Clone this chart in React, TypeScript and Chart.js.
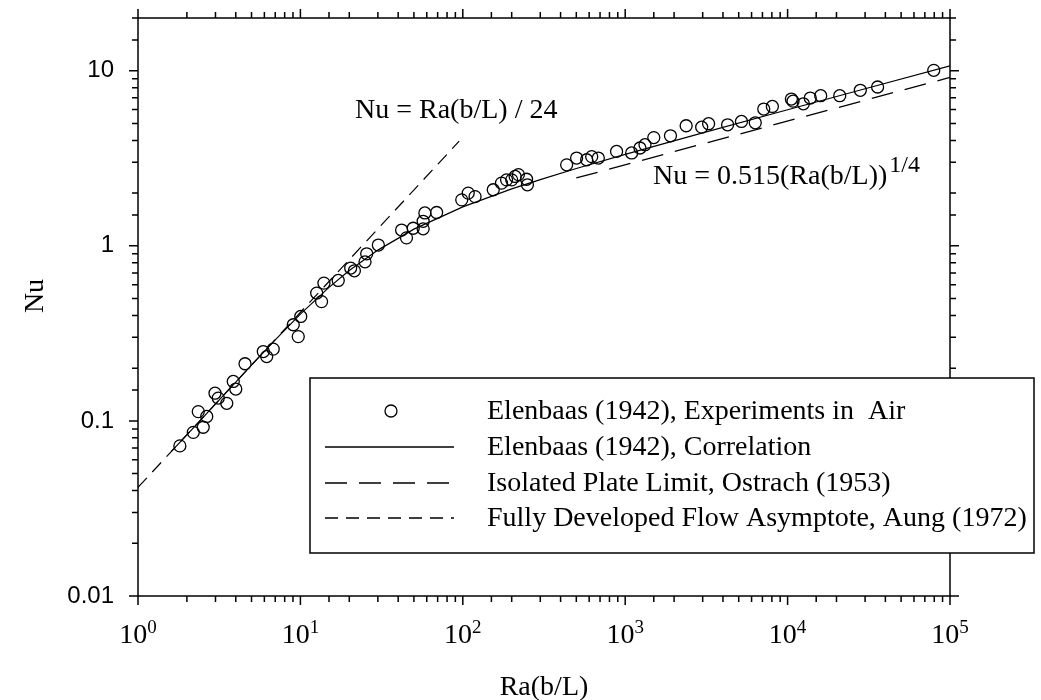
import React, { useEffect, useRef } from "react";
import { Chart, registerables } from "chart.js";

Chart.register(...registerables);

// Elenbaas (1942) experiments in air: Ra(b/L) and Nu
const expRa = [
  1.81, 2.19, 2.35, 2.52, 2.65, 2.98, 3.12, 3.52, 3.86, 4.0, 4.56, 5.91, 6.2, 6.8,
  9.04, 9.7, 10.05, 12.6, 13.5, 13.96, 17.1, 20.4, 21.5, 25, 25.6, 30.2, 42, 45,
  49.5, 57, 57, 58.4, 69, 98.5, 108, 119, 154, 173, 186, 200, 210, 220, 247, 250,
  436, 502, 579, 622, 683, 885, 1096, 1233, 1324, 1500, 1900, 2373, 2958, 3263,
  4272, 5198, 6322, 7132, 8057, 10550, 10800, 12500, 13790, 15990, 20940, 28040,
  35820, 79430,
];
const expNu = [
  0.072, 0.086, 0.113, 0.092, 0.106, 0.144, 0.135, 0.126, 0.168, 0.152, 0.212, 0.249,
  0.233, 0.257, 0.354, 0.303, 0.395, 0.537, 0.48, 0.612, 0.634, 0.746, 0.72, 0.81,
  0.9, 1.01, 1.23, 1.11, 1.26, 1.38, 1.25, 1.54, 1.55, 1.83, 2.0, 1.91, 2.09, 2.28,
  2.38, 2.38, 2.49, 2.55, 2.4, 2.23, 2.9, 3.17, 3.1, 3.23, 3.17, 3.46, 3.39, 3.62,
  3.78, 4.15, 4.25, 4.85, 4.76, 4.98, 4.91, 5.13, 5.04, 6.04, 6.25, 6.89, 6.7, 6.47,
  6.98, 7.2, 7.2, 7.73, 8.07, 10.05,
];

// Elenbaas (1942) correlation curve
const corrRa = [1.6, 2, 5, 7, 10, 15, 20, 30, 50, 100, 200, 300, 500, 1000, 3000, 10000, 30000, 100000];
const corrNu = [0.0667, 0.0833, 0.208, 0.29, 0.407, 0.579, 0.722, 0.945, 1.245, 1.669, 2.113, 2.389, 2.763, 3.328, 4.418, 5.988, 7.89, 10.67];

// Isolated plate limit, Ostrach (1953): Nu = 0.515 (Ra(b/L))^1/4
const isoRa = [500, 100000];
const isoNu = [2.44, 9.16];

// Fully developed flow asymptote, Aung (1972): Nu = Ra(b/L)/24
const fullyRa = [1, 95];
const fullyNu = [0.0417, 3.96];

const yTickValues = [0.01, 0.1, 1, 10];
const yTickLabels = ["0.01", "0.1", "1", "10"];
const xTickExponents = [0, 1, 2, 3, 4, 5];

const legendLabels = [
  "Elenbaas (1942), Experiments in  Air",
  "Elenbaas (1942), Correlation",
  "Isolated Plate Limit, Ostrach (1953)",
  "Fully Developed Flow Asymptote, Aung (1972)",
];

const SERIF = '"Liberation Serif", "Times New Roman", serif';
const SANS = '"Liberation Sans", Arial, sans-serif';

const pts = (xs: number[], ys: number[]) => xs.map((x, i) => ({ x, y: ys[i] }));
const isDecade = (v: number) => Math.abs(Math.log10(v) - Math.round(Math.log10(v))) < 1e-6;

const framePlugin = {
  id: "frame",
  afterDraw(chart: any) {
    const { ctx, chartArea: a } = chart;
    const xs = chart.scales.x;
    const ys = chart.scales.y;
    ctx.save();
    ctx.strokeStyle = "#000";
    ctx.lineWidth = 1.5;
    ctx.strokeRect(a.left, a.top, a.right - a.left, a.bottom - a.top);
    ctx.beginPath();
    xs.ticks.forEach((t: any) => {
      const px = xs.getPixelForValue(t.value);
      const len = isDecade(t.value) ? 9 : 6;
      ctx.moveTo(px, a.bottom);
      ctx.lineTo(px, a.bottom + len);
      ctx.moveTo(px, a.top);
      ctx.lineTo(px, a.top - len);
    });
    ys.ticks.forEach((t: any) => {
      const py = ys.getPixelForValue(t.value);
      const len = isDecade(t.value) ? 9 : 6;
      ctx.moveTo(a.left, py);
      ctx.lineTo(a.left - len, py);
      ctx.moveTo(a.right, py);
      ctx.lineTo(a.right + len, py);
    });
    ctx.stroke();

    // x tick labels with superscripts
    ctx.fillStyle = "#000";
    ctx.textBaseline = "alphabetic";
    ctx.textAlign = "left";
    xTickExponents.forEach((e) => {
      const px = xs.getPixelForValue(Math.pow(10, e));
      ctx.font = `28px ${SERIF}`;
      const wb = ctx.measureText("10").width;
      ctx.font = `19px ${SERIF}`;
      const ws = ctx.measureText(String(e)).width;
      const x0 = px - (wb + ws) / 2;
      ctx.font = `28px ${SERIF}`;
      ctx.fillText("10", x0, 643);
      ctx.font = `19px ${SERIF}`;
      ctx.fillText(String(e), x0 + wb, 633);
    });

    // axis titles
    ctx.font = `28px ${SERIF}`;
    ctx.textAlign = "center";
    ctx.textBaseline = "middle";
    ctx.fillText("Ra(b/L)", (a.left + a.right) / 2, 688);
    ctx.save();
    ctx.translate(36, 296);
    ctx.rotate(-Math.PI / 2);
    ctx.fillText("Nu", 0, 0);
    ctx.restore();

    // annotations
    ctx.textAlign = "left";
    ctx.textBaseline = "alphabetic";
    ctx.font = `28px ${SERIF}`;
    ctx.fillText("Nu = Ra(b/L) / 24", 355, 118);
    const main = "Nu = 0.515(Ra(b/L))";
    ctx.fillText(main, 653, 184);
    const wm = ctx.measureText(main).width;
    ctx.font = `24px ${SERIF}`;
    ctx.fillText("1/4", 653 + wm + 2, 172);

    // legend
    const L = 310, T = 378, R = 1034, B = 553;
    ctx.fillStyle = "#fff";
    ctx.fillRect(L, T, R - L, B - T);
    ctx.strokeStyle = "#000";
    ctx.lineWidth = 1.5;
    ctx.strokeRect(L, T, R - L, B - T);
    const rows = [411, 447, 483, 518];
    const ds = chart.data.datasets;
    ctx.beginPath();
    ctx.lineWidth = ds[0].borderWidth;
    ctx.arc(391, rows[0], ds[0].pointRadius, 0, Math.PI * 2);
    ctx.stroke();
    for (let i = 1; i < 4; i++) {
      ctx.beginPath();
      ctx.lineWidth = 1.5;
      ctx.setLineDash(ds[i].borderDash || []);
      ctx.moveTo(325, rows[i]);
      ctx.lineTo(454, rows[i]);
      ctx.stroke();
    }
    ctx.setLineDash([]);
    ctx.fillStyle = "#000";
    ctx.font = `28px ${SERIF}`;
    ctx.textBaseline = "middle";
    legendLabels.forEach((lab, i) => ctx.fillText(lab, 487, rows[i] + 1));
    ctx.restore();
  },
};

export default function App() {
  const ref = useRef<HTMLCanvasElement | null>(null);
  useEffect(() => {
    if (!ref.current) return;
    const chart = new Chart(ref.current, {
      type: "scatter",
      data: {
        datasets: [
          {
            label: legendLabels[0],
            data: pts(expRa, expNu),
            showLine: false,
            pointStyle: "circle",
            pointRadius: 6,
            borderWidth: 1.3,
            borderColor: "#000",
            backgroundColor: "rgba(0,0,0,0)",
            order: 0,
          },
          {
            label: legendLabels[1],
            data: pts(corrRa, corrNu),
            showLine: true,
            pointRadius: 0,
            borderWidth: 1.2,
            borderColor: "#000",
            order: 1,
          },
          {
            label: legendLabels[2],
            data: pts(isoRa, isoNu),
            showLine: true,
            pointRadius: 0,
            borderWidth: 1.3,
            borderColor: "#000",
            borderDash: [22, 12],
            order: 2,
          },
          {
            label: legendLabels[3],
            data: pts(fullyRa, fullyNu),
            showLine: true,
            pointRadius: 0,
            borderWidth: 1.2,
            borderColor: "#000",
            borderDash: [13, 8],
            order: 3,
          },
        ],
      },
      options: {
        animation: false,
        responsive: false,
        events: [],
        layout: { padding: { top: 18, right: 91, left: 0, bottom: 0 } },
        plugins: { legend: { display: false }, tooltip: { enabled: false } },
        scales: {
          x: {
            type: "logarithmic",
            min: 1,
            max: 100000,
            grid: { display: false, drawTicks: false },
            border: { display: false },
            ticks: { display: false, autoSkip: false },
            afterFit: (s: any) => {
              s.height = 104;
              s.paddingLeft = 0;
              s.paddingRight = 0;
            },
          },
          y: {
            type: "logarithmic",
            min: 0.01,
            max: 20,
            grid: { display: false, drawTicks: false },
            border: { display: false },
            ticks: {
              autoSkip: false,
              padding: 24,
              color: "#000",
              font: { family: SANS, size: 24 },
              callback: (v: any) => {
                const i = yTickValues.findIndex((t) => Math.abs(t - Number(v)) / t < 1e-6);
                return i >= 0 ? yTickLabels[i] : "";
              },
            },
            afterFit: (s: any) => {
              s.width = 138;
              s.paddingTop = 0;
              s.paddingBottom = 0;
            },
          },
        },
      },
      plugins: [framePlugin],
    });
    return () => chart.destroy();
  }, []);
  return (
    <div style={{ position: "fixed", left: 0, top: 0, width: 1041, height: 700, background: "#fff" }}>
      <canvas ref={ref} width={1041} height={700} style={{ display: "block" }} />
    </div>
  );
}
